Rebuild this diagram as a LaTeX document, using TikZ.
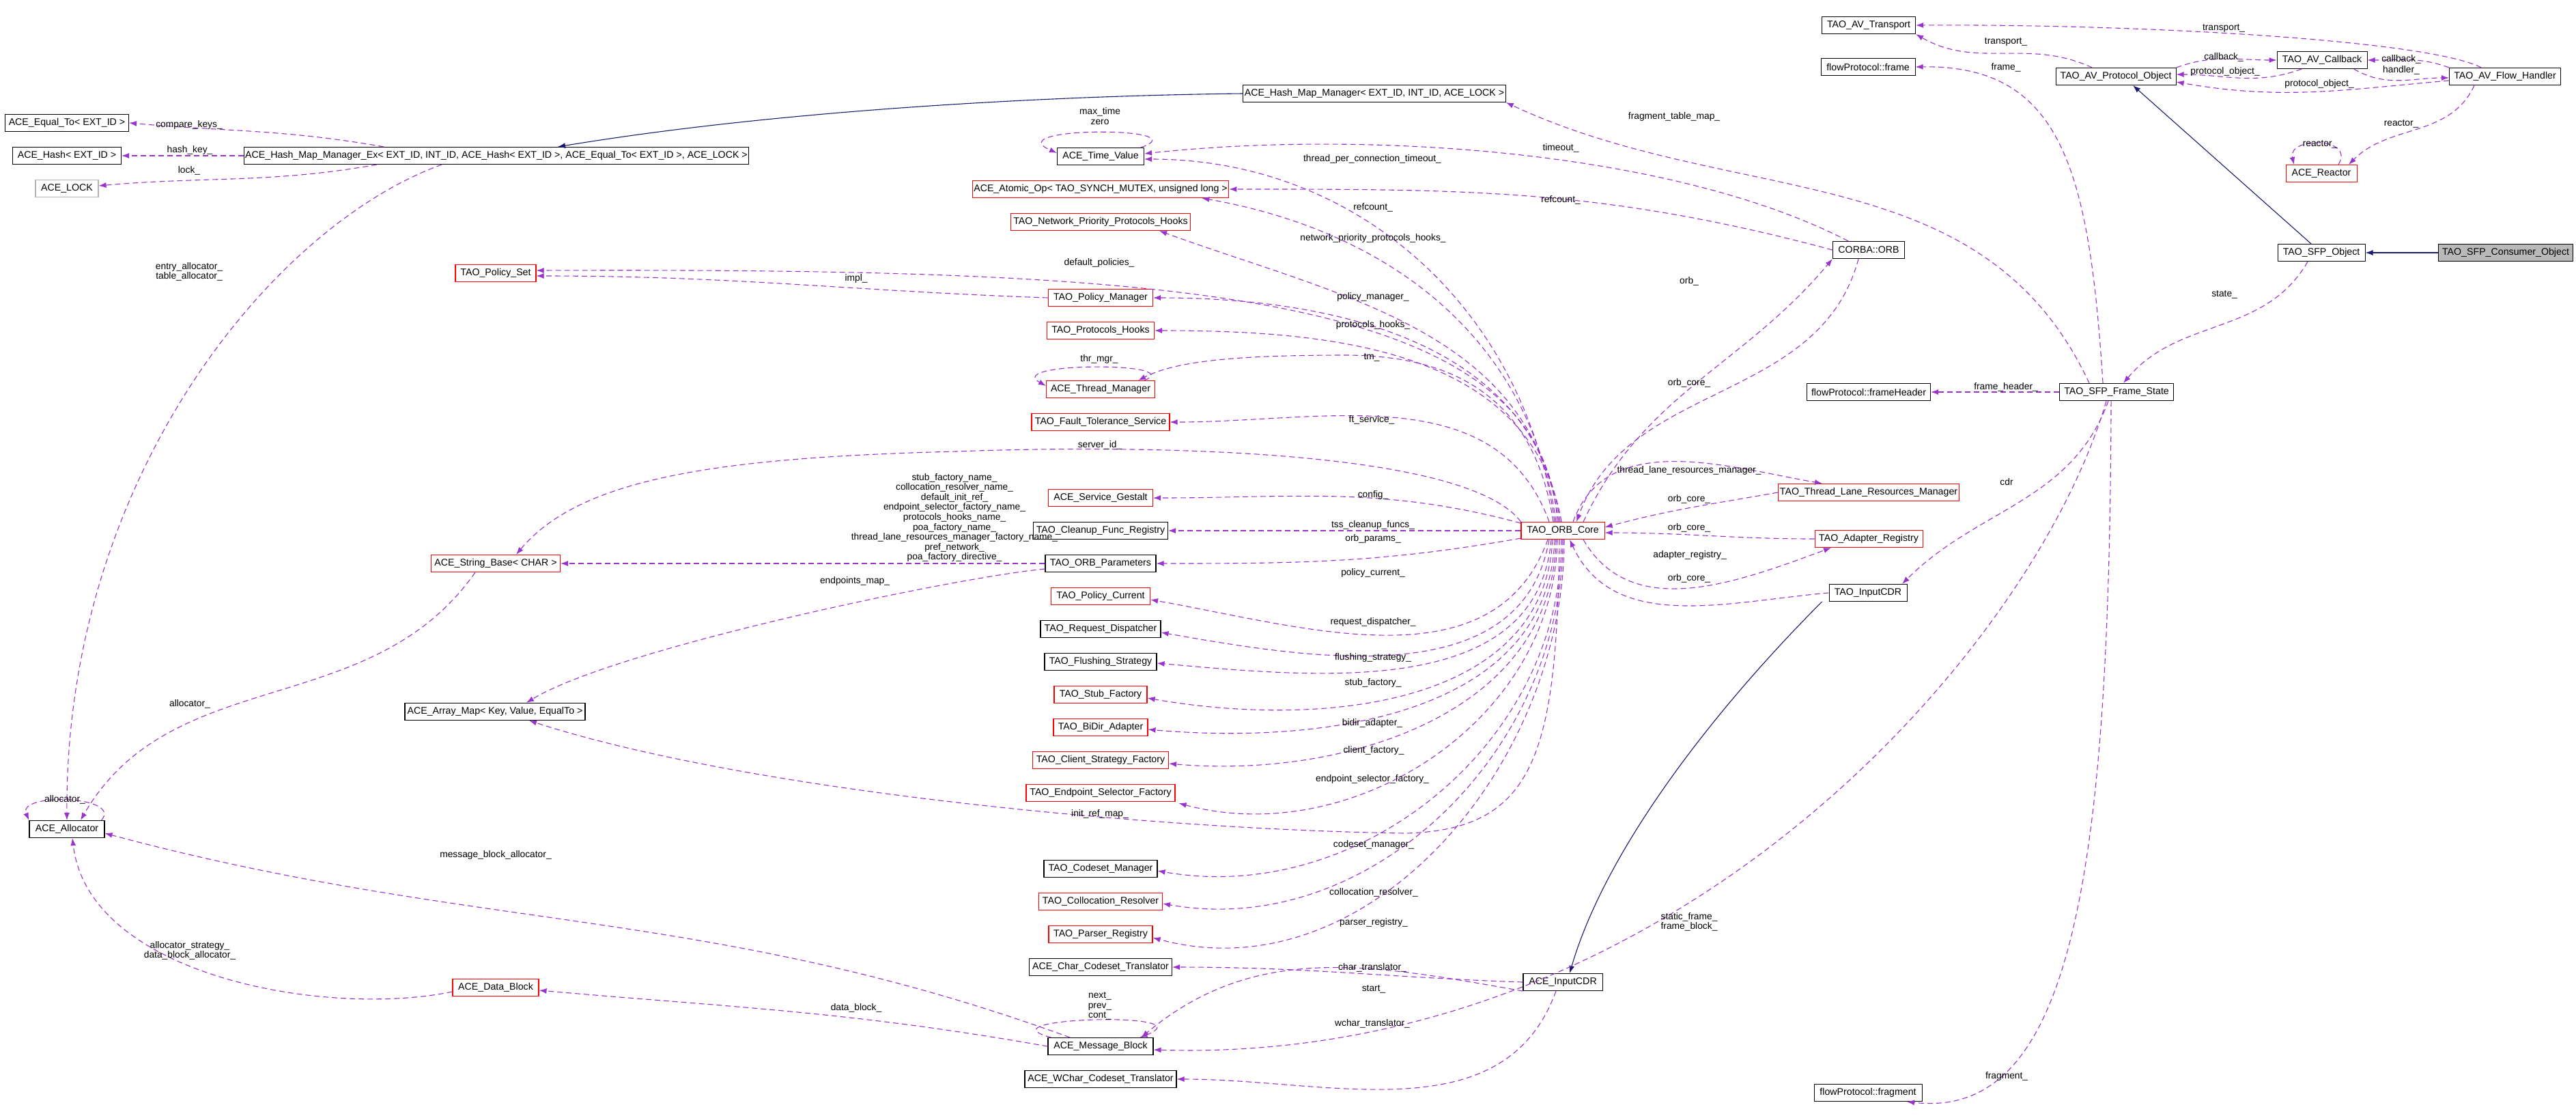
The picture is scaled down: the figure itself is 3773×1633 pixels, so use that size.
\documentclass[tikz,border=0pt]{standalone}
\usepackage{fontspec}
\setmainfont{Liberation Sans}
\usetikzlibrary{arrows.meta}
\definecolor{dep}{HTML}{9A32CD}
\definecolor{inhc}{HTML}{191970}
\newdimen\u \u=0.1pt
\begin{document}
\begin{tikzpicture}[x=0.1pt,y=0.1pt,
  box/.style={draw=black,line width=0.11pt,minimum height=25\u,inner sep=0.2pt,font=\fontsize{1.42}{1.55}\selectfont,fill=white},
  rbox/.style={box,draw=red},
  gbox/.style={box,draw=gray!60},
  cbox/.style={box,fill=gray!55},
  dep/.style={draw=dep,line width=0.11pt,dash pattern=on 0.8pt off 0.5pt,-{Latex[length=1.1pt,width=0.8pt]}},
  inh/.style={draw=inhc,line width=0.11pt,-{Latex[length=1.1pt,width=0.8pt]}},
  lbl/.style={inner sep=0pt,align=center,font=\fontsize{1.38}{1.46}\selectfont}]
\useasboundingbox (0,0) rectangle (3773,-1633);
% ---------- nodes ----------
\node[box,minimum width=181\u] (eq) at (98,-180) {ACE\_Equal\_To< EXT\_ID >};
\node[box,minimum width=159\u] (hash) at (98,-228) {ACE\_Hash< EXT\_ID >};
\node[gbox,minimum width=92\u] (lock) at (98,-276) {ACE\_LOCK};
\node[box,minimum width=713\u] (hmmex) at (727,-228) {ACE\_Hash\_Map\_Manager\_Ex< EXT\_ID, INT\_ID, ACE\_Hash< EXT\_ID >, ACE\_Equal\_To< EXT\_ID >, ACE\_LOCK >};
\node[rbox,minimum width=118\u] (policyset) at (726,-400) {TAO\_Policy\_Set};
\node[rbox,minimum width=189\u] (strbase) at (726,-825) {ACE\_String\_Base< CHAR >};
\node[box,minimum width=264\u] (arraymap) at (725,-1042) {ACE\_Array\_Map< Key, Value, EqualTo >};
\node[box,minimum width=110\u] (allocator) at (98,-1214) {ACE\_Allocator};
\node[rbox,minimum width=126\u] (datablock) at (726,-1446) {ACE\_Data\_Block};
\node[box,minimum width=379\u] (hmm) at (2013,-137) {ACE\_Hash\_Map\_Manager< EXT\_ID, INT\_ID, ACE\_LOCK >};
\node[box,minimum width=127\u] (timevalue) at (1612,-229) {ACE\_Time\_Value};
\node[rbox,minimum width=370\u] (atomic) at (1612,-277) {ACE\_Atomic\_Op< TAO\_SYNCH\_MUTEX, unsigned long >};
\node[rbox,minimum width=263\u] (netprio) at (1612,-325) {TAO\_Network\_Priority\_Protocols\_Hooks};
\node[rbox,minimum width=153\u] (policymgr) at (1612,-436) {TAO\_Policy\_Manager};
\node[rbox,minimum width=157\u] (protohooks) at (1612,-484) {TAO\_Protocols\_Hooks};
\node[rbox,minimum width=159\u] (threadmgr) at (1612,-570) {ACE\_Thread\_Manager};
\node[rbox,minimum width=202\u] (fault) at (1612,-618) {TAO\_Fault\_Tolerance\_Service};
\node[rbox,minimum width=153\u] (gestalt) at (1612,-729) {ACE\_Service\_Gestalt};
\node[box,minimum width=197\u] (cleanup) at (1612,-777) {TAO\_Cleanup\_Func\_Registry};
\node[box,minimum width=162\u] (orbparams) at (1612,-825) {TAO\_ORB\_Parameters};
\node[rbox,minimum width=145\u] (policycur) at (1612,-873) {TAO\_Policy\_Current};
\node[box,minimum width=176\u] (reqdisp) at (1612,-921) {TAO\_Request\_Dispatcher};
\node[box,minimum width=164\u] (flush) at (1612,-969) {TAO\_Flushing\_Strategy};
\node[rbox,minimum width=136\u] (stubfac) at (1612,-1017) {TAO\_Stub\_Factory};
\node[rbox,minimum width=138\u] (bidir) at (1612,-1065) {TAO\_BiDir\_Adapter};
\node[rbox,minimum width=199\u] (clientstrat) at (1612,-1113) {TAO\_Client\_Strategy\_Factory};
\node[rbox,minimum width=218\u] (endpointsel) at (1612,-1161) {TAO\_Endpoint\_Selector\_Factory};
\node[box,minimum width=166\u] (codeset) at (1612,-1272) {TAO\_Codeset\_Manager};
\node[rbox,minimum width=181\u] (colloc) at (1612,-1320) {TAO\_Collocation\_Resolver};
\node[rbox,minimum width=152\u] (parser) at (1612,-1368) {TAO\_Parser\_Registry};
\node[box,minimum width=209\u] (chartrans) at (1612,-1416) {ACE\_Char\_Codeset\_Translator};
\node[box,minimum width=154\u] (msgblock) at (1612,-1532) {ACE\_Message\_Block};
\node[box,minimum width=222\u] (wchartrans) at (1612,-1580) {ACE\_WChar\_Codeset\_Translator};
\node[rbox,minimum width=122\u] (orbcore) at (2289,-777) {TAO\_ORB\_Core};
\node[box,minimum width=116\u] (inputcdr) at (2289,-1438) {ACE\_InputCDR};
\node[rbox,minimum width=265\u] (threadlane) at (2737,-721) {TAO\_Thread\_Lane\_Resources\_Manager};
\node[rbox,minimum width=158\u] (adapterreg) at (2737,-789) {TAO\_Adapter\_Registry};
\node[box,minimum width=114\u] (taoinputcdr) at (2736,-868) {TAO\_InputCDR};
\node[box,minimum width=181\u] (frameheader) at (2737,-574) {flowProtocol::frameHeader};
\node[box,minimum width=167\u] (sfpframestate) at (3100,-574) {TAO\_SFP\_Frame\_State};
\node[box,minimum width=158\u] (fragment) at (2736,-1600) {flowProtocol::fragment};
\node[box,minimum width=137\u] (avtransport) at (2737,-37) {TAO\_AV\_Transport};
\node[box,minimum width=138\u] (frame) at (2736,-98) {flowProtocol::frame};
\node[box,minimum width=176\u] (avproto) at (3099,-112) {TAO\_AV\_Protocol\_Object};
\node[box,minimum width=132\u] (avcallback) at (3401,-88) {TAO\_AV\_Callback};
\node[box,minimum width=163\u] (flowhandler) at (3669,-112) {TAO\_AV\_Flow\_Handler};
\node[rbox,minimum width=104\u] (reactor) at (3400,-254) {ACE\_Reactor};
\node[box,minimum width=105\u] (corbaorb) at (2737,-366) {CORBA::ORB};
\node[box,minimum width=128\u] (sfpobject) at (3400,-370) {TAO\_SFP\_Object};
\node[cbox,minimum width=197\u] (consumer) at (3670,-370) {TAO\_SFP\_Consumer\_Object};
% ---------- inheritance ----------
\draw[inh] (consumer) -- (sfpobject);
\draw[inh] ([xshift=-15\u]sfpobject.north) -- ([xshift=25\u]avproto.south);
\draw[inh] (hmm.west) .. controls (1550,-140) and (1150,-160) .. ([xshift=90\u]hmmex.north);
\draw[inh] ([xshift=-10\u]taoinputcdr.south west) .. controls (2500,-1050) and (2350,-1250) .. ([xshift=10\u]inputcdr.north);
% ---------- left part ----------
\draw[dep] ([xshift=-165\u]hmmex.north) to[out=170,in=-5] (eq.east);
\draw[dep] (hmmex.west) -- (hash.east);
\draw[dep] ([xshift=-175\u]hmmex.south) to[out=190,in=5] ([yshift=4\u]lock.east);
\draw[dep] ([xshift=-80\u]hmmex.south) .. controls (400,-330) and (95,-700) .. (allocator.north);
\draw[dep] ([xshift=-5\u]allocator.north east) .. controls (180,-1165) and (25,-1160) .. (allocator.north west);
\draw[dep] ([xshift=-30\u]strbase.south) to[out=-125,in=60] ([xshift=20\u]allocator.north);
\draw[dep] ([yshift=-6\u]datablock.west) .. controls (480,-1490) and (130,-1430) .. ([xshift=8\u]allocator.south);
\draw[dep] ([xshift=-45\u]msgblock.north) to[out=160,in=-15] ([yshift=-6\u]allocator.east);
\draw[dep] (msgblock.west) to[out=170,in=-5] ([yshift=-4\u]datablock.east);
\draw[dep] ([xshift=5\u]msgblock.north west) .. controls (1430,-1490) and (1770,-1480) .. ([xshift=-20\u]msgblock.north east);
\draw[dep] (orbparams.west) -- (strbase.east);
\draw[dep] ([yshift=-8\u]orbparams.west) .. controls (1400,-845) and (900,-950) .. ([xshift=46\u]arraymap.north);
\draw[dep] (orbcore.north west) .. controls (2150,-660) and (1700,-650) .. (1400,-661) .. controls (1050,-670) and (850,-700) .. ([xshift=30\u]strbase.north);
\draw[dep] ([xshift=-5\u]orbcore.south) .. controls (2280,-1100) and (2250,-1215) .. (2059,-1220) .. controls (1700,-1215) and (1100,-1160) .. ([xshift=50\u]arraymap.south);
\draw[dep] (policymgr.west) to[out=178,in=0] ([yshift=-4\u]policyset.east);
\draw[dep] ([xshift=-8\u]orbcore.north) .. controls (2260,-420) and (1700,-393) .. ([yshift=4\u]policyset.east);
% ---------- ORB core, upper ----------
\draw[dep] ([xshift=-12\u]orbcore.north) to[out=98,in=0] ([yshift=-4\u]timevalue.east);
\draw[dep] ([xshift=-10\u]orbcore.north) to[out=98,in=-10] ([xshift=-40\u]atomic.south east);
\draw[dep] ([xshift=-6\u]orbcore.north) to[out=98,in=-20] ([xshift=-46\u]netprio.south east);
\draw[dep] ([xshift=-4\u]orbcore.north) to[out=98,in=0] (policymgr.east);
\draw[dep] ([xshift=-2\u]orbcore.north) to[out=100,in=0] (protohooks.east);
\draw[dep] ([xshift=-14\u]orbcore.north) .. controls (2250,-600) and (2150,-520) .. (1970,-520) .. controls (1800,-520) and (1720,-530) .. ([xshift=-25\u]threadmgr.north east);
\draw[dep] ([xshift=-16\u]threadmgr.north east) .. controls (1740,-530) and (1470,-530) .. ([yshift=5\u]threadmgr.west);
\draw[dep] ([xshift=-20\u]orbcore.north) to[out=110,in=0] (fault.east);
\draw[dep] ([xshift=-5\u]timevalue.north east) .. controls (1760,-185) and (1460,-185) .. ([yshift=5\u]timevalue.west);
% ---------- ORB core, level / lower ----------
\draw[dep] ([yshift=-2\u]orbcore.north west) to[out=165,in=0] (gestalt.east);
\draw[dep] (orbcore.west) -- (cleanup.east);
\draw[dep] ([yshift=2\u]orbcore.south west) to[out=190,in=0] (orbparams.east);
\draw[dep] ([xshift=-22\u]orbcore.south) to[out=-110,in=-10] ([yshift=-5\u]policycur.east);
\draw[dep] ([xshift=-20\u]orbcore.south) to[out=-100,in=-10] ([yshift=-5\u]reqdisp.east);
\draw[dep] ([xshift=-17\u]orbcore.south) to[out=-95,in=-5] ([yshift=-2\u]flush.east);
\draw[dep] ([xshift=-15\u]orbcore.south) to[out=-93,in=-10] ([yshift=-5\u]stubfac.east);
\draw[dep] ([xshift=-12\u]orbcore.south) to[out=-92,in=-5] ([yshift=-3\u]bidir.east);
\draw[dep] ([xshift=-10\u]orbcore.south) to[out=-91,in=-5] ([yshift=-5\u]clientstrat.east);
\draw[dep] ([xshift=-8\u]orbcore.south) to[out=-91,in=-15] ([xshift=5\u,yshift=-2\u]endpointsel.south east);
\draw[dep] ([xshift=-2\u]orbcore.south) to[out=-90,in=-10] ([yshift=-3\u]codeset.east);
\draw[dep] (orbcore.south) to[out=-90,in=-10] ([yshift=-3\u]colloc.east);
\draw[dep] ([xshift=2\u]orbcore.south) to[out=-90,in=-15] ([yshift=-5\u]parser.east);
% ---------- ACE_InputCDR ----------
\draw[dep] (inputcdr.west) to[out=178,in=0] (chartrans.east);
\draw[dep] (inputcdr.south west) to[out=170,in=40] ([xshift=-18\u]msgblock.north east);
\draw[dep] ([xshift=-10\u]inputcdr.south) to[out=-110,in=0] (wchartrans.east);
% ---------- CORBA::ORB ----------
\draw[dep] ([xshift=-30\u]corbaorb.north) .. controls (2450,-220) and (2000,-190) .. ([yshift=4\u]timevalue.east);
\draw[dep] (corbaorb.west) to[out=165,in=0] (atomic.east);
\draw[dep] ([xshift=-15\u]corbaorb.south) to[out=-105,in=70] ([xshift=20\u]orbcore.north);
\draw[dep] ([xshift=30\u]orbcore.north) to[out=65,in=-130] (corbaorb.south west);
% ---------- right of ORB core ----------
\draw[dep] ([xshift=15\u]orbcore.north) to[out=70,in=170] ([xshift=65\u]threadlane.north west);
\draw[dep] (threadlane.west) to[out=-170,in=15] ([yshift=5\u]orbcore.east);
\draw[dep] (adapterreg.west) to[out=180,in=0] ([yshift=-3\u]orbcore.east);
\draw[dep] ([xshift=30\u]orbcore.south) to[out=-60,in=-160] ([xshift=-55\u]adapterreg.south);
\draw[dep] (taoinputcdr.west) to[out=185,in=-65] ([xshift=10\u]orbcore.south);
% ---------- SFP frame state ----------
\draw[dep] (sfpframestate.west) -- (frameheader.east);
\draw[dep] ([xshift=-12\u]sfpframestate.south) to[out=-110,in=45] ([xshift=50\u]taoinputcdr.north);
\draw[dep] ([xshift=-15\u]sfpframestate.south) .. controls (2980,-950) and (2450,-1560) .. ([yshift=-5\u]msgblock.east);
\draw[dep] ([xshift=-8\u]sfpframestate.south) .. controls (3090,-1300) and (3030,-1640) .. ([xshift=57\u]fragment.south);
\draw[dep] ([xshift=-20\u]sfpframestate.north) .. controls (3060,-250) and (3020,-95) .. (frame.east);
\draw[dep] ([xshift=-40\u]sfpframestate.north) to[out=115,in=-25] (hmm.south east);
\draw[dep] ([xshift=-20\u]sfpobject.south) to[out=-120,in=50] ([xshift=10\u]sfpframestate.north);
% ---------- AV ----------
\draw[dep] ([xshift=-35\u]avproto.north) to[out=155,in=-30] (avtransport.south east);
\draw[dep] (avproto.north east) to[out=20,in=180] (avcallback.west);
\draw[dep] ([xshift=-30\u]avcallback.south) to[out=-160,in=0] ([yshift=3\u]avproto.east);
\draw[dep] ([yshift=-6\u]flowhandler.west) to[out=185,in=-10] ([yshift=-8\u]avproto.east);
\draw[dep] (flowhandler.north west) to[out=160,in=0] (avcallback.east);
\draw[dep] ([xshift=-20\u]avcallback.south east) to[out=-30,in=180] ([yshift=-2\u]flowhandler.west);
\draw[dep] ([xshift=-35\u]flowhandler.north) .. controls (3560,-60) and (3150,-35) .. (avtransport.east);
\draw[dep] ([xshift=-45\u]flowhandler.south) to[out=-115,in=45] ([xshift=40\u]reactor.north);
\draw[dep] ([xshift=25\u]reactor.north) .. controls (3450,-200) and (3350,-200) .. ([xshift=-40\u]reactor.north);
% ---------- labels ----------
\node[lbl] (l1) at (277,-183) {compare\_keys\_};
\node[lbl] (l2) at (278,-220) {hash\_key\_};
\node[lbl] (l3) at (277,-250) {lock\_};
\node[lbl] (l4) at (277,-398) {entry\_allocator\_\\table\_allocator\_};
\node[lbl] (l5) at (95,-1171) {allocator\_};
\node[lbl] (l6) at (278,-1031) {allocator\_};
\node[lbl] (l7) at (278,-1392) {allocator\_strategy\_\\data\_block\_allocator\_};
\node[lbl] (l8) at (726,-1252) {message\_block\_allocator\_};
\node[lbl] (l9) at (1254,-1476) {data\_block\_};
\node[lbl] (l10) at (1611,-1473) {next\_\\prev\_\\cont\_};
\node[lbl] (l11) at (2012,-1448) {start\_};
\node[lbl] (l12) at (2010,-1417) {char\_translator\_};
\node[lbl] (l13) at (2010,-1499) {wchar\_translator\_};
\node[lbl] (l14) at (2474,-1350) {static\_frame\_\\frame\_block\_};
\node[lbl] (l15) at (2939,-1576) {fragment\_};
\node[lbl] (l16) at (2938,-567) {frame\_header\_};
\node[lbl] (l17) at (2939,-706) {cdr};
\node[lbl] (l18) at (2938,-99) {frame\_};
\node[lbl] (l19) at (2452,-171) {fragment\_table\_map\_};
\node[lbl] (l20) at (3258,-431) {state\_};
\node[lbl] (l21) at (2938,-61) {transport\_};
\node[lbl] (l22) at (3257,-84) {callback\_};
\node[lbl] (l23) at (3259,-105) {protocol\_object\_};
\node[lbl] (l24) at (3397,-123) {protocol\_object\_};
\node[lbl] (l25) at (3517,-87) {callback\_};
\node[lbl] (l26) at (3517,-103) {handler\_};
\node[lbl] (l27) at (3257,-41) {transport\_};
\node[lbl] (l28) at (3517,-181) {reactor\_};
\node[lbl] (l29) at (3398,-211) {reactor\_};
\node[lbl] (l30) at (2286,-217) {timeout\_};
\node[lbl] (l31) at (2286,-293) {refcount\_};
\node[lbl] (l32) at (2474,-561) {orb\_core\_};
\node[lbl] (l33) at (2474,-412) {orb\_};
\node[lbl] (l34) at (2010,-233) {thread\_per\_connection\_timeout\_};
\node[lbl] (l35) at (2011,-304) {refcount\_};
\node[lbl] (l36) at (2011,-349) {network\_priority\_protocols\_hooks\_};
\node[lbl] (l37) at (1610,-385) {default\_policies\_};
\node[lbl] (l38) at (1254,-408) {impl\_};
\node[lbl] (l39) at (2011,-435) {policy\_manager\_};
\node[lbl] (l40) at (2011,-476) {protocols\_hooks\_};
\node[lbl] (l41) at (1611,-170) {max\_time\\zero};
\node[lbl] (l42) at (1610,-526) {thr\_mgr\_};
\node[lbl] (l43) at (2009,-523) {tm\_};
\node[lbl] (l44) at (2009,-615) {ft\_service\_};
\node[lbl] (l45) at (1611,-652) {server\_id\_};
\node[lbl] (l46) at (2011,-725) {config\_};
\node[lbl] (l47) at (2011,-769) {tss\_cleanup\_funcs\_};
\node[lbl] (l48) at (2011,-789) {orb\_params\_};
\node[lbl] (l49) at (1398,-758) {stub\_factory\_name\_\\collocation\_resolver\_name\_\\default\_init\_ref\_\\endpoint\_selector\_factory\_name\_\\protocols\_hooks\_name\_\\poa\_factory\_name\_\\thread\_lane\_resources\_manager\_factory\_name\_\\pref\_network\_\\poa\_factory\_directive\_};
\node[lbl] (l50) at (1252,-851) {endpoints\_map\_};
\node[lbl] (l51) at (2011,-839) {policy\_current\_};
\node[lbl] (l52) at (2011,-911) {request\_dispatcher\_};
\node[lbl] (l53) at (2011,-963) {flushing\_strategy\_};
\node[lbl] (l54) at (2011,-1000) {stub\_factory\_};
\node[lbl] (l55) at (2010,-1059) {bidir\_adapter\_};
\node[lbl] (l56) at (2012,-1099) {client\_factory\_};
\node[lbl] (l57) at (2010,-1141) {endpoint\_selector\_factory\_};
\node[lbl] (l58) at (1611,-1192) {init\_ref\_map\_};
\node[lbl] (l59) at (2012,-1237) {codeset\_manager\_};
\node[lbl] (l60) at (2012,-1307) {collocation\_resolver\_};
\node[lbl] (l61) at (2012,-1351) {parser\_registry\_};
\node[lbl] (l62) at (2474,-689) {thread\_lane\_resources\_manager\_};
\node[lbl] (l63) at (2474,-731) {orb\_core\_};
\node[lbl] (l64) at (2474,-773) {orb\_core\_};
\node[lbl] (l65) at (2475,-813) {adapter\_registry\_};
\node[lbl] (l66) at (2474,-847) {orb\_core\_};
\end{tikzpicture}
\end{document}
